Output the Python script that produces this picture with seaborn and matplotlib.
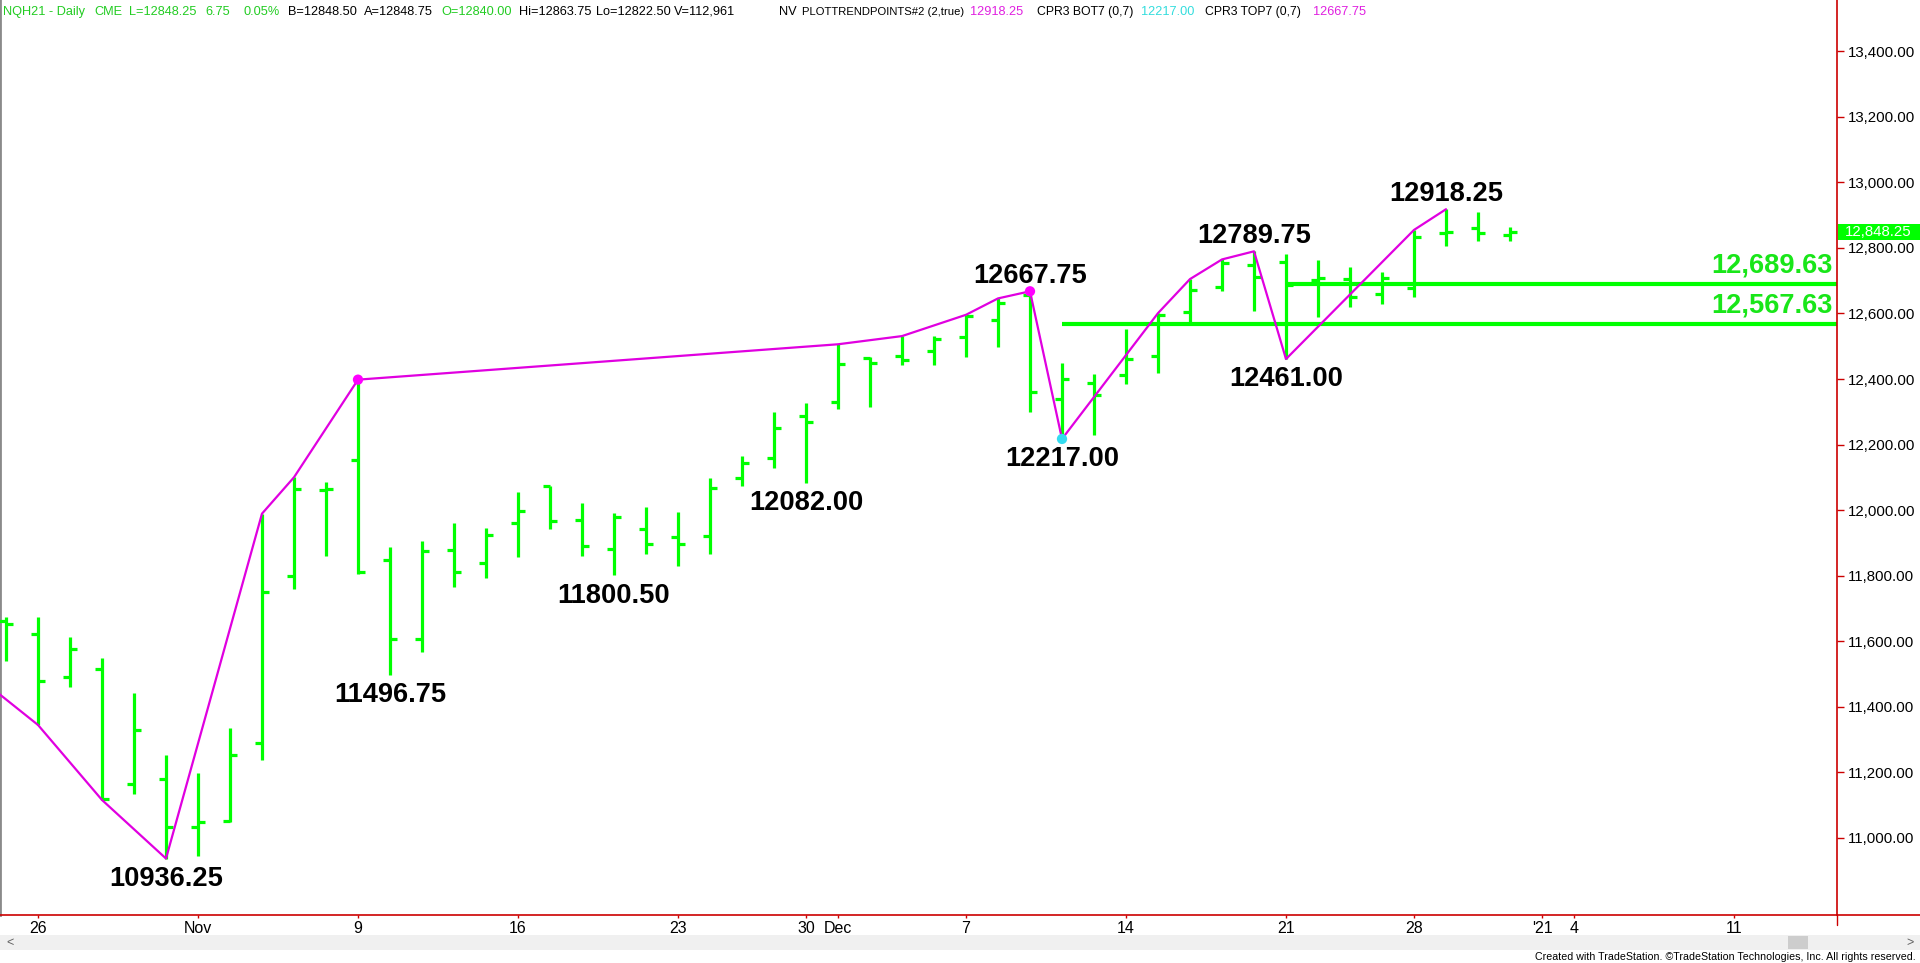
import numpy as np
import pandas as pd
import matplotlib
matplotlib.use("Agg")
import matplotlib.pyplot as plt
from matplotlib import font_manager as fm
from matplotlib.patches import Rectangle
from matplotlib.lines import Line2D
import seaborn as sns

# ---------------- data ----------------
bar_dates = [
    "2020-10-23", "2020-10-26", "2020-10-27", "2020-10-28", "2020-10-29", "2020-10-30",
    "2020-11-02", "2020-11-03", "2020-11-04", "2020-11-05", "2020-11-06",
    "2020-11-09", "2020-11-10", "2020-11-11", "2020-11-12", "2020-11-13",
    "2020-11-16", "2020-11-17", "2020-11-18", "2020-11-19", "2020-11-20",
    "2020-11-23", "2020-11-24", "2020-11-25", "2020-11-27",
    "2020-11-30", "2020-12-01", "2020-12-02", "2020-12-03", "2020-12-04",
    "2020-12-07", "2020-12-08", "2020-12-09", "2020-12-10", "2020-12-11",
    "2020-12-14", "2020-12-15", "2020-12-16", "2020-12-17", "2020-12-18",
    "2020-12-21", "2020-12-22", "2020-12-23", "2020-12-24",
    "2020-12-28", "2020-12-29", "2020-12-30", "2020-12-31",
]
opens = [11661, 11621, 11489, 11514, 11164, 11178, 11033, 11052, 11288, 11798, 12060,
         12153, 11847, 11605, 11878, 11837, 11961, 12074, 11971, 11881, 11942,
         11917, 11921, 12097, 12158, 12288, 12329, 12463, 12470, 12486,
         12527, 12580, 12657, 12338, 12389, 12412, 12470, 12605, 12680, 12748,
         12758, 12702, 12704, 12660, 12677, 12845, 12861, 12840.00]
highs = [11674, 11674, 11612, 11547, 11441, 11252, 11196, 11334, 11989, 12100, 12086,
         12398, 11888, 11905, 11961, 11944, 12054, 12074, 12020, 11991, 12008,
         11995, 12097, 12166, 12300, 12328, 12506, 12466, 12531, 12531,
         12596, 12646, 12667.75, 12448, 12415, 12552, 12601, 12705, 12765, 12789.75,
         12782, 12763, 12741, 12726, 12855, 12918.25, 12911, 12863.75]
lows = [11539, 11344, 11461, 11115, 11132, 10936.25, 10945, 11049, 11237, 11758, 11861,
        11805, 11496.75, 11566, 11764, 11792, 11858, 11941, 11861, 11800.50, 11866,
        11830, 11867, 12073, 12127, 12082.00, 12308, 12314, 12443, 12443,
        12468, 12497, 12300, 12217.00, 12229, 12385, 12418, 12575, 12670, 12608,
        12461.00, 12590, 12620, 12629, 12651, 12806, 12820, 12822.50]
closes = [11652, 11478, 11575, 11118, 11328, 11031, 11047, 11252, 11751, 12063, 12065,
          11810, 11605, 11875, 11810, 11924, 11997, 11967, 11890, 11978, 11895,
          11896, 12066, 12144, 12250, 12268, 12445, 12448, 12458, 12521,
          12592, 12633, 12361, 12399, 12350, 12461, 12595, 12672, 12755, 12710,
          12687, 12707, 12651, 12707, 12833, 12848, 12847, 12848.25]

# calendar slots of the time axis (one prior day, trading days, future weekdays)
prior_dates = ["2020-10-22"]
future_dates = ["2021-01-01", "2021-01-04", "2021-01-05", "2021-01-06", "2021-01-07",
                "2021-01-08", "2021-01-11", "2021-01-12", "2021-01-13", "2021-01-14",
                "2021-01-15"]

# swing points of the trend-point study
trend_dates = ["2020-10-22", "2020-10-26", "2020-10-28", "2020-10-30", "2020-11-04",
               "2020-11-05", "2020-11-09", "2020-12-01", "2020-12-03", "2020-12-07",
               "2020-12-08", "2020-12-09", "2020-12-10", "2020-12-15", "2020-12-16",
               "2020-12-17", "2020-12-18", "2020-12-21", "2020-12-28", "2020-12-29"]
trend_prices = [11500, 11344, 11115, 10936.25, 11989, 12100, 12398, 12506, 12531, 12596,
                12646, 12667.75, 12217.00, 12601, 12705, 12765, 12789.75, 12461.00, 12855,
                12918.25]

label_dates = ["2020-10-30", "2020-11-10", "2020-11-19", "2020-11-30", "2020-12-09",
               "2020-12-10", "2020-12-18", "2020-12-21", "2020-12-29"]
label_prices = [10936.25, 11496.75, 11800.50, 12082.00, 12667.75, 12217.00, 12789.75,
                12461.00, 12918.25]
label_side = ["below", "below", "below", "below", "above", "below", "above", "below", "above"]

dot_dates = ["2020-11-09", "2020-12-09", "2020-12-10"]
dot_prices = [12398, 12667.75, 12217.00]
dot_kind = ["top", "top", "bottom"]

level_prices = [12689.63, 12567.63]
level_start = ["2020-12-21", "2020-12-10"]
level_text = ["12,689.63", "12,567.63"]

last_price = 12848.25
y_ticks = list(range(11000, 13401, 200))

header = [
    ("NQH21 - Daily", 3, "g", 9.2), ("CME", 94, "g", 9.2), ("L=12848.25", 129, "g", 9.2),
    ("6.75", 205, "g", 9.2), ("0.05%", 243, "g", 9.2), ("B=12848.50", 288, "k", 9.2),
    ("A=12848.75", 364, "k", 9.2), ("O=12840.00", 441, "g", 9.2), ("Hi=12863.75", 519, "k", 9.2),
    ("Lo=12822.50", 596, "k", 9.2), ("V=112,961", 674, "k", 9.2), ("NV", 779, "k", 9.2),
    ("PLOTTRENDPOINTS#2 (2,true)", 802, "k", 8.1), ("12918.25", 970, "m", 9.2),
    ("CPR3 BOT7 (0,7)", 1037, "k", 8.8), ("12217.00", 1141, "c", 9.2),
    ("CPR3 TOP7 (0,7)", 1205, "k", 8.8), ("12667.75", 1313, "m", 9.2),
]

# ---------------- style ----------------
sns.set_style("white")
plt.rcParams["font.family"] = ["Liberation Sans", "DejaVu Sans"]

def has_font(name):
    try:
        fm.findfont(fm.FontProperties(family=name), fallback_to_default=False)
        return True
    except Exception:
        return False

NARROW = "Liberation Sans Narrow" if has_font("Liberation Sans Narrow") else "Liberation Sans"

GREEN = "#00ff00"
GREEN_TXT = "#19e619"
HDR_GREEN = "#22cc22"
MAGENTA = "#e000e0"
CYAN = "#33dcf0"
RED = "#cc0000"
col_map = {"g": HDR_GREEN, "k": "black", "m": "#e020e0", "c": "#33dddd"}

slots = prior_dates + bar_dates + future_dates
pos_of = {d: i for i, d in enumerate(slots)}

W, H = 1920, 963
AX_BOTTOM_PX = 915
AX_RIGHT_PX = 1837

fig = plt.figure(figsize=(W / 100, H / 100), dpi=100)
fig.patch.set_facecolor("white")
ax = fig.add_axes([0, (H - AX_BOTTOM_PX) / H, AX_RIGHT_PX / W, AX_BOTTOM_PX / H])
ax.set_facecolor("white")

bars = pd.DataFrame({"date": bar_dates, "open": opens, "high": highs, "low": lows, "close": closes})
bars["pos"] = bars["date"].map(pos_of)

# OHLC bars
ax.vlines(bars["pos"], bars["low"], bars["high"], color=GREEN, lw=2.3, capstyle="butt", zorder=3)
ax.hlines(bars["open"], bars["pos"] - 0.21, bars["pos"], color=GREEN, lw=2.3, zorder=3)
ax.hlines(bars["close"], bars["pos"], bars["pos"] + 0.21, color=GREEN, lw=2.3, zorder=3)

# horizontal levels
xmax = (AX_RIGHT_PX + 26) / 32
for p, s in zip(level_prices, level_start):
    ax.hlines(p, pos_of[s], xmax, color=GREEN, lw=3.0, zorder=2)

# trend line
trend = pd.DataFrame({"pos": [pos_of[d] for d in trend_dates], "price": trend_prices})
sns.lineplot(data=trend, x="pos", y="price", sort=False, estimator=None, color=MAGENTA,
             lw=1.6, ax=ax, zorder=4)

dots = pd.DataFrame({"pos": [pos_of[d] for d in dot_dates], "price": dot_prices, "kind": dot_kind})
sns.scatterplot(data=dots, x="pos", y="price", hue="kind",
                palette={"top": "#ff00ff", "bottom": CYAN}, s=55, edgecolor="none",
                legend=False, ax=ax, zorder=5)

# swing labels
for d, p, side in zip(label_dates, label_prices, label_side):
    off = 11.3 if side == "above" else -14.5
    ax.annotate(f"{p:.2f}", xy=(pos_of[d], p), xytext=(0, off), textcoords="offset points",
                ha="center", va="center", fontsize=19.6, fontweight="bold", color="black",
                zorder=6)

# level labels
ytr = ax.get_yaxis_transform()
for p, t in zip(level_prices, level_text):
    ax.annotate(t, xy=(1833 / AX_RIGHT_PX, p), xycoords=ytr, xytext=(0, 13.5),
                textcoords="offset points", ha="right", va="center", fontsize=19.6,
                fontweight="bold", color=GREEN_TXT, zorder=6)

# axes limits
p_top = 13556.9
px_per = 3.0525
ax.set_ylim(p_top - px_per * AX_BOTTOM_PX, p_top)
ax.set_xlim(26 / 32, xmax)
ax.set_xlabel("")
ax.set_ylabel("")

# y axis (right)
ax.yaxis.tick_right()
ax.set_yticks(y_ticks)
ax.set_yticklabels([f"{v:,.2f}" for v in y_ticks])
ax.tick_params(axis="y", which="major", right=True, left=False, length=5, width=1,
               color=RED, labelcolor="black", labelsize=10.8, pad=2.5)

# x axis ticks from calendar
tick_pos, tick_lab, month_pos = [], [], []
prev_month = None
prev_dt = None
for d in slots[1:]:
    dt = pd.Timestamp(d)
    i = pos_of[d]
    if prev_month is not None and dt.month != prev_month:
        tick_pos.append(i)
        tick_lab.append("'21" if dt.month == 1 else dt.strftime("%b"))
        month_pos.append(i)
    elif prev_dt is not None and dt.weekday() < prev_dt.weekday():
        tick_pos.append(i)
        tick_lab.append(str(dt.day))
    elif prev_dt is None and dt.weekday() == 0:
        tick_pos.append(i)
        tick_lab.append(str(dt.day))
    prev_month = dt.month
    prev_dt = dt
ax.set_xticks(tick_pos)
ax.set_xticklabels(tick_lab, fontfamily=NARROW, fontsize=11.5)
ax.set_xticks(month_pos, minor=True)
ax.tick_params(axis="x", which="major", bottom=True, length=2.0, width=1, color=RED,
               labelcolor="black", pad=2.0)
ax.tick_params(axis="x", which="minor", bottom=True, length=4.0, width=1, color=RED)

ax.spines["top"].set_visible(False)
ax.spines["right"].set_color(RED)
ax.spines["right"].set_linewidth(1.2)
ax.spines["bottom"].set_color(RED)
ax.spines["bottom"].set_linewidth(1.2)
ax.spines["left"].set_color("#8a8a8a")
ax.spines["left"].set_linewidth(2.0)
ax.grid(False)

# last price marker
ax.add_patch(Rectangle((1.0006, last_price - 8 * px_per), 83 / AX_RIGHT_PX, 16 * px_per,
                       transform=ytr, facecolor=GREEN, edgecolor="none", clip_on=False, zorder=7))
ax.text(1845 / AX_RIGHT_PX, last_price, f"{last_price:,.2f}", transform=ytr, ha="left",
        va="center", fontsize=10.8, color="white", clip_on=False, zorder=8)

# figure-level decorations: axis continuation, scrollbar, credits, header
yb = (H - AX_BOTTOM_PX) / H
fig.add_artist(Line2D([AX_RIGHT_PX / W, 1], [yb, yb], color=RED, lw=1.2, transform=fig.transFigure))
fig.add_artist(Line2D([AX_RIGHT_PX / W, AX_RIGHT_PX / W], [yb, yb - 10 / H], color=RED, lw=1.0,
                      transform=fig.transFigure))
fig.add_artist(Rectangle((0, 1 - 950 / H), 1, 15 / H, transform=fig.transFigure,
                         facecolor="#f0f0f0", edgecolor="none", zorder=-1))
fig.add_artist(Rectangle((1788 / W, 1 - 949 / H), 20 / W, 13 / H, transform=fig.transFigure,
                         facecolor="#cdcdcd", edgecolor="none", zorder=-1))
fig.text(6 / W, 1 - 942.5 / H, "<", fontsize=9, color="#606060", va="center", ha="left")
fig.text(1914 / W, 1 - 942.5 / H, ">", fontsize=9, color="#606060", va="center", ha="right")
fig.text(1916 / W, 1 - 956.5 / H,
         "Created with TradeStation. \u00a9TradeStation Technologies, Inc. All rights reserved.",
         fontsize=7.7, fontfamily=NARROW, color="black", ha="right", va="center")

for txt, x, c, fs in header:
    fig.text(x / W, 1 - 12 / H, txt, fontsize=fs, color=col_map[c], ha="left", va="center")

fig.savefig("out.png", dpi=100, facecolor="white")
